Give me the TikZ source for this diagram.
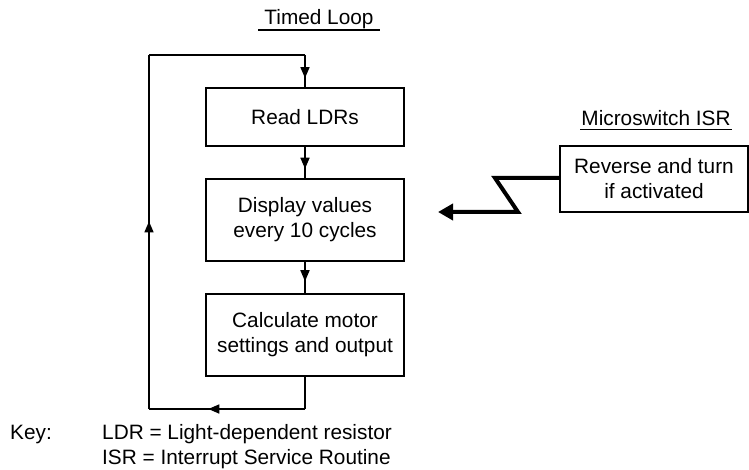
\documentclass[tikz,border=0pt]{standalone}
\usepackage{fontspec}
\setmainfont{Liberation Sans}
\usetikzlibrary{arrows.meta,decorations.markings}
\tikzset{
  txt/.style={font=\fontsize{20.8}{25}\selectfont, inner sep=0pt},
  stepbox/.style={txt, draw, line width=1.8pt, align=center, minimum width=198pt, minimum height=82pt},
  loopline/.style={line width=1.6pt},
  midarrow/.style={loopline, postaction={decorate}, decoration={markings, mark=at position #1 with {\arrow{Triangle[length=11pt,width=9pt]}}}},
  zig/.style={line width=4pt, line join=miter, -{Triangle[length=15pt,width=16pt]}}
}
\begin{document}
\begin{tikzpicture}[x=1pt,y=-1pt]
\useasboundingbox (0,0) rectangle (749,470);
% titles
\node[txt, anchor=base] (title) at (319,25) {Timed Loop};
\draw[line width=1.3pt] (258,30) -- (380,30);
\node[txt, anchor=base] (mtitle) at (656,126) {Microswitch ISR};
\draw[line width=1.3pt] (580,129.5) -- (732,129.5);
% boxes
\node[stepbox, minimum height=58pt] (read) at (305,117) {Read LDRs};
\node[stepbox] (disp) at (305,220) {Display values\\every 10 cycles};
\node[stepbox] (calc) at (305,335) {Calculate motor\\settings and output};
\node[stepbox, minimum width=188pt, minimum height=66pt, line width=1.6pt] (isr) at (654,179) {Reverse and turn\\if activated};
% loop corners
\coordinate (br) at (305,409);
\coordinate (bl) at (149,409);
\coordinate (tl) at (149,55);
\coordinate (tr) at (305,55);
\draw[loopline] (calc.south) -- (br);
\draw[midarrow=0.62] (br) -- (bl);
\draw[midarrow=0.53] (bl) -- (tl);
\draw[loopline] (tl) -- (tr);
\draw[midarrow=0.72] (tr) -- (read.north);
\draw[midarrow=0.7] (read.south) -- (disp.north);
\draw[midarrow=0.62] (disp.south) -- (calc.north);
% interrupt
\coordinate (z1) at (495,178);
\coordinate (z2) at (518,212);
\coordinate (tip) at (438,212);
\draw[zig] (isr.west |- z1) -- (z1) -- (z2) -- (tip);
% key
\node[txt, anchor=base west] (key) at (10,439) {Key:};
\node[txt, anchor=base west] (k1) at (102,439) {LDR = Light-dependent resistor};
\node[txt, anchor=base west] (k2) at (102,464) {ISR = Interrupt Service Routine};
\end{tikzpicture}
\end{document}
